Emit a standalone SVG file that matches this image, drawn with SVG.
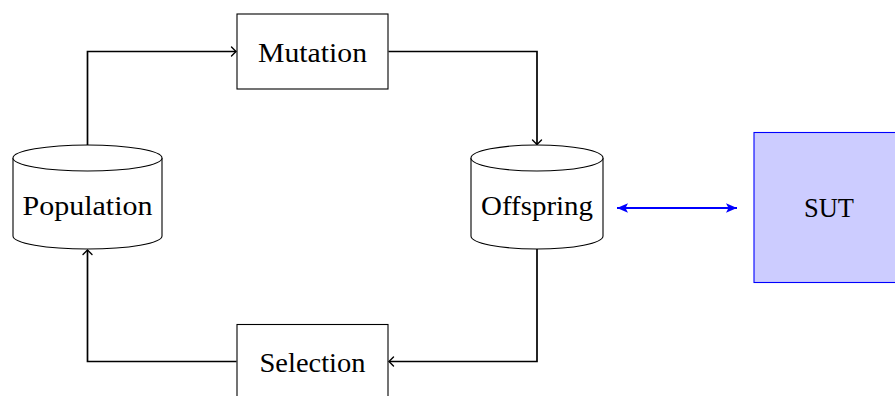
<svg xmlns="http://www.w3.org/2000/svg" width="895" height="396" viewBox="0 0 895 396">
<style>
.box{fill:#ffffff;stroke:#000000;stroke-width:1.1}
.lbl{font-family:"Liberation Serif","DejaVu Serif",serif;font-size:27px;fill:#000000;text-anchor:middle}
.conn{fill:none;stroke:#000000;stroke-width:1.7}
.blue{fill:none;stroke:#0000ff;stroke-width:2}
</style>
<defs>
<marker id="arr" markerUnits="userSpaceOnUse" viewBox="-6 -6 8 12" refX="0" refY="0" markerWidth="8" markerHeight="12" orient="auto">
<path d="M-4.5,-4.5 Q-1.2,-1.2 0,0 Q-1.2,1.2 -4.5,4.5" fill="none" stroke="#000000" stroke-width="1.4" stroke-linecap="round"/>
</marker>
<marker id="barr" markerUnits="userSpaceOnUse" viewBox="-12 -6 13 12" refX="0" refY="0" markerWidth="13" markerHeight="12" orient="auto-start-reverse">
<path d="M0,0 L-11,-4.8 L-8.5,0 L-11,4.8 Z" fill="#0000ff"/>
</marker>
</defs>
<g id="connectors">
<path class="conn" d="M87.5,145 V51.5 H236" marker-end="url(#arr)"/>
<path class="conn" d="M388.5,51.5 H537 V144.5" marker-end="url(#arr)"/>
<path class="conn" d="M537,249 V361.5 H389" marker-end="url(#arr)"/>
<path class="conn" d="M236.5,361.5 H87.5 V250" marker-end="url(#arr)"/>
<path class="blue" d="M617,208 H737" marker-start="url(#barr)" marker-end="url(#barr)"/>
</g>
<g id="mutation">
<rect class="box" x="237" y="14" width="151" height="75"/>
<text class="lbl" x="312.5" y="61.5" textLength="109" lengthAdjust="spacingAndGlyphs">Mutation</text>
</g>
<g id="population">
<path class="box" d="M13,158 V236 A74.5,13 0 0 0 162,236 V158"/>
<ellipse class="box" cx="87.5" cy="158" rx="74.5" ry="13"/>
<text class="lbl" x="87.5" y="215" textLength="130" lengthAdjust="spacingAndGlyphs">Population</text>
</g>
<g id="offspring">
<path class="box" d="M471,158 V236 A66,13 0 0 0 603,236 V158"/>
<ellipse class="box" cx="537" cy="158" rx="66" ry="13"/>
<text class="lbl" x="537" y="214.5" textLength="112" lengthAdjust="spacingAndGlyphs">Offspring</text>
</g>
<g id="selection">
<rect class="box" x="237" y="324.5" width="151" height="75"/>
<text class="lbl" x="312.5" y="372" textLength="106" lengthAdjust="spacingAndGlyphs">Selection</text>
</g>
<g id="sut">
<rect x="754" y="132.5" width="150" height="150" fill="#ccccff" stroke="#0000ff" stroke-width="1.1"/>
<text class="lbl" x="829" y="217" textLength="50" lengthAdjust="spacingAndGlyphs">SUT</text>
</g>
</svg>
